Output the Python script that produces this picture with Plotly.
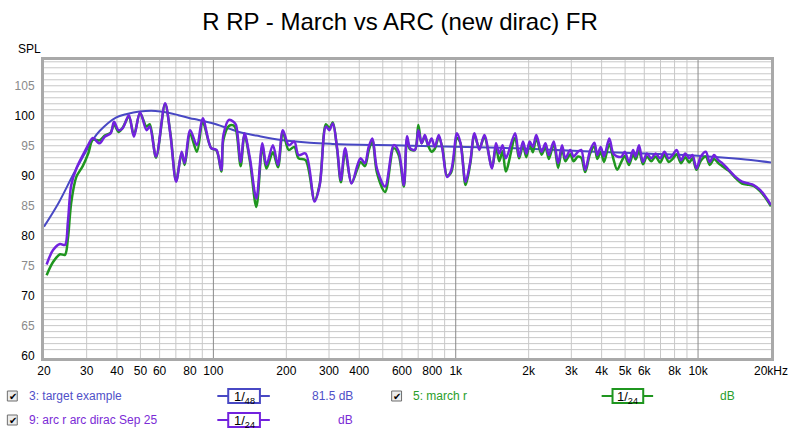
import math
import plotly.graph_objects as go

# ---------------- data ----------------
title_text = "R RP - March vs ARC (new dirac) FR"

freq = [20.5, 21.8, 23.3, 24.4, 25.1, 25.9, 27.2, 28.9, 30.5, 31.8, 33.9, 35.6, 37.7, 38.9, 40.6, 42.2,
        44.8, 47.0, 49.8, 53.0, 54.6, 58.0, 63.2, 66.5, 70.2, 74.0, 76.1, 80.2, 85.5, 90.4, 97.9, 103,
        107.8, 110, 115.9, 121, 124, 129.6, 134.4, 141.5, 150.4, 159.3, 165.5, 176, 184.7, 193.5, 204.6,
        215.8, 224.6, 240.1, 261.6, 274.7, 291.3, 301, 311, 324, 335.7, 349.7, 371.5, 393.4, 405, 422,
        437.4, 453, 473, 511, 555, 582, 611, 630, 648, 679, 701, 723, 746, 770, 795, 820, 851, 882, 921,
        959, 1012, 1047, 1098, 1148, 1195, 1252, 1313, 1412, 1466, 1512, 1561, 1610, 1758, 1825, 1895,
        1957, 2019, 2082, 2150, 2261, 2346, 2422, 2538, 2646, 2747, 2834, 2970, 3064, 3194, 3296, 3422,
        3586, 3735, 3840, 3966, 4092, 4302, 4467, 4638, 4834, 4986, 5192, 5392, 5530, 5706, 5924, 6152,
        6412, 6678, 6978, 7268, 7568, 7858, 8158, 8504, 8856, 9196, 9486, 9850, 10268, 10764, 11176,
        11638, 12120, 12586, 13404, 14280, 15196, 16182, 16962, 18064, 19216, 20000]

arc_r = [75.2, 77.6, 78.6, 78.45, 82.3, 88.4, 91.2, 93.4, 95.2, 96.3, 95.4, 96.5, 97.1, 99.0, 97.6, 97.9,
         100.1, 96.5, 100.6, 97.6, 98.2, 93.2, 102.1, 96.8, 89.0, 94.0, 92.1, 97.6, 95.1, 99.6, 94.6, 94.3,
         90.95, 96.8, 99.3, 99.0, 98.45, 92.3, 97.1, 92.9, 86.2, 95.4, 91.8, 95.1, 91.8, 97.6, 95.1,
         95.7, 93.45, 93.7, 85.7, 88.45, 98.2, 97.6, 98.7, 94.6, 89.3, 94.6, 88.7, 91.8, 92.9, 92.1,
         94.8, 96.2, 91.2, 88.2, 95.1, 94.0, 88.45, 96.6, 94.6, 94.3, 97.6, 95.4, 96.8, 95.1, 96.2, 94.8, 96.8, 94.3, 89.8,
         90.95, 97.1, 95.4, 89.0, 92.3, 97.1, 94.3, 96.8, 91.2, 95.4, 93.7, 95.1, 92.9, 97.1, 93.2, 95.7,
         93.7, 95.7, 94.8, 96.8, 94.0, 95.4, 93.45, 95.7, 92.1, 95.1, 92.9, 94.3, 93.2, 94.0, 94.3, 90.95,
         94.2, 95.5, 93.45, 94.8, 93.2, 96.2, 93.7, 93.2, 93.2, 94.0, 92.3, 94.3, 93.2, 95.1, 92.3, 93.7,
         92.9, 93.7, 92.9, 94.0, 92.9, 93.45, 94.3, 92.6, 93.7, 92.9, 93.45, 91.2, 93.2, 94.0, 92.3,
         93.45, 92.6, 92.1, 90.95, 89.8, 89.0, 88.7, 88.45, 87.6, 86.2, 85.1]

march_r = [73.4, 75.6, 76.9, 76.8, 79.5, 85.5, 89.8, 91.6, 93.8, 96.0, 95.9, 96.7, 97.2, 98.6, 97.3, 98.0,
           99.8, 96.8, 100.4, 98.2, 98.6, 93.0, 101.9, 97.0, 89.2, 93.8, 91.8, 97.0, 94.0, 98.9, 94.6, 94.2,
           90.7, 96.0, 98.3, 98.4, 97.7, 91.6, 96.8, 92.4, 84.8, 94.9, 91.2, 93.9, 91.4, 97.3, 94.3,
           94.8, 92.9, 92.6, 85.9, 88.6, 98.6, 97.9, 98.9, 94.4, 88.9, 93.9, 88.8, 91.2, 92.3, 91.6,
           94.2, 95.9, 90.5, 87.3, 94.6, 93.4, 88.2, 96.1, 94.4, 94.3, 98.45, 95.4, 96.5, 95.0, 94.0, 94.5, 96.4, 94.6, 90.0,
           90.6, 96.3, 95.4, 88.45, 92.0, 96.7, 94.6, 96.4, 91.4, 94.8, 92.4, 94.1, 90.7, 96.3, 92.9, 95.0,
           93.1, 95.4, 93.9, 96.3, 93.5, 94.8, 92.8, 95.3, 91.3, 94.5, 92.4, 93.6, 92.4, 93.2, 93.0, 90.6,
           93.7, 94.9, 92.8, 94.0, 92.3, 95.3, 92.9, 91.0, 92.4, 93.3, 91.8, 93.6, 92.7, 94.2, 91.9, 93.2,
           92.4, 93.2, 92.2, 93.5, 92.3, 92.8, 93.6, 92.1, 93.1, 92.2, 92.9, 91.0, 92.5, 93.2, 91.8,
           92.8, 92.1, 91.6, 90.8, 89.6, 88.7, 88.5, 88.3, 87.4, 86.0, 84.9]

target_freq = [20, 23, 26.4, 29, 31.8, 34, 39.6, 44, 49.5, 57.7, 65, 71.7, 80, 87, 100, 115, 130, 150,
               191, 250, 310, 400, 555, 660, 1000, 2000, 3800, 6000, 10300, 15000, 20000]
target_db = [81.5, 85.5, 90.2, 93.2, 96.0, 97.5, 99.7, 100.3, 100.7, 100.8, 100.5, 100.1, 99.6, 99.3,
             98.7, 97.9, 97.2, 96.7, 95.95, 95.5, 95.3, 95.15, 95.1, 95.0, 94.85, 94.5, 94.0, 93.7,
             93.3, 92.8, 92.2]

x_tickvals = [20, 30, 40, 50, 60, 80, 100, 200, 300, 400, 600, 800, 1000,
              2000, 3000, 4000, 5000, 6000, 8000, 10000, 20000]
x_ticktext = ["20", "30", "40", "50", "60", "80", "100", "200", "300", "400", "600",
              "800", "1k", "2k", "3k", "4k", "5k", "6k", "8k", "10k", "20kHz"]
x_grid = [30, 40, 50, 60, 70, 80, 90, 200, 300, 400, 500, 600, 700, 800, 900,
          2000, 3000, 4000, 5000, 6000, 7000, 8000, 9000]
x_major = [100, 1000, 10000]
y_tickvals = [60, 65, 70, 75, 80, 85, 90, 95, 100, 105]
y_grid = list(range(61, 110))

legend_names = ["3: target example", "9: arc r arc dirac Sep 25", "5: march r"]
legend_smooth = ["48", "24", "24"]
legend_values = ["81.5 dB", "dB", "dB"]

# ---------------- style ----------------
C_TARGET = "#4848C4"
C_ARC = "#7222DE"
C_MARCH = "#1F961F"
C_TARGET_TXT = "#5050C8"
C_ARC_TXT = "#7B2BD6"
C_MARCH_TXT = "#2A9E2A"
C_GRID = "#c8c8c8"

W, H = 800, 434
L, R, T, B = 44, 22, 60, 76
PW, PH = W - L - R, H - T - B


def px(x):
    return (x - L) / PW


def py(y):
    return (H - B - y) / PH


fig = go.Figure()
fig.add_trace(go.Scatter(x=target_freq, y=target_db, mode="lines",
                         line=dict(color=C_TARGET, width=2, shape="spline", smoothing=1.0),
                         showlegend=False, hoverinfo="skip"))
fig.add_trace(go.Scatter(x=freq, y=march_r, mode="lines",
                         line=dict(color=C_MARCH, width=2.5, shape="spline", smoothing=0.9),
                         showlegend=False))
fig.add_trace(go.Scatter(x=freq, y=arc_r, mode="lines",
                         line=dict(color=C_ARC, width=2.5, shape="spline", smoothing=0.9),
                         showlegend=False))

y_ticktext = [f'<span style="color:{"#000000" if v % 10 == 0 else "#8a8a8a"}">{v}</span>' for v in y_tickvals]

xr = [math.log10(20), math.log10(20000)]
fig.update_layout(
    width=W, height=H,
    margin=dict(l=L, r=R, t=T, b=B),
    paper_bgcolor="white", plot_bgcolor="white",
    font=dict(family="Liberation Sans, Arial, sans-serif", size=12, color="#000"),
    title=dict(text=title_text, x=0.5, xanchor="center", y=1 - 22 / H, yanchor="middle",
               font=dict(size=24, color="#000", family="Liberation Sans, Arial, sans-serif")),
    xaxis=dict(type="log", range=xr, tickmode="array", tickvals=x_tickvals, ticktext=x_ticktext,
               showgrid=False, ticks="", zeroline=False,
               showline=True, linecolor="#a9a9a9", linewidth=3, mirror=True,
               tickfont=dict(size=12, color="#000")),
    yaxis=dict(range=[59.6, 109.3], tickmode="array", tickvals=y_tickvals, ticktext=y_ticktext,
               showgrid=False, ticks="", zeroline=False,
               showline=True, linecolor="#a9a9a9", linewidth=3, mirror=True,
               tickfont=dict(size=12), ticklabelstandoff=4),
)

shapes = []
annots = []

# grid lines (below the traces)
for v in y_grid:
    shapes.append(dict(type="line", xref="paper", yref="y", x0=0, x1=1, y0=v, y1=v, layer="below",
                       line=dict(color=C_GRID, width=1)))
for f in x_grid:
    shapes.append(dict(type="line", xref="x", yref="paper", x0=f, x1=f, y0=0, y1=1, layer="below",
                       line=dict(color=C_GRID, width=1)))
for f in x_major:
    shapes.append(dict(type="line", xref="x", yref="paper", x0=f, x1=f, y0=0, y1=1, layer="below",
                       line=dict(color="#8a8a8a", width=1)))

# SPL label
annots.append(dict(text="SPL", xref="paper", yref="paper", x=px(16), y=py(49), xanchor="left", yanchor="middle",
                   showarrow=False, font=dict(size=12, color="#000")))


def legend_item(cx_box, cy, name, col_txt, col_line, smooth, val, val_right, sym_l, sym_r, box_l, box_r):
    shapes.append(dict(type="rect", xref="paper", yref="paper", x0=px(cx_box), x1=px(cx_box + 10),
                       y0=py(cy + 5), y1=py(cy - 5), line=dict(color="#6e6e6e", width=1), fillcolor="#ececec"))
    annots.append(dict(text="✔", xref="paper", yref="paper", x=px(cx_box + 5.5), y=py(cy), xanchor="center",
                       yanchor="middle", showarrow=False, font=dict(size=10, color="#000", family="DejaVu Sans")))
    annots.append(dict(text=name, xref="paper", yref="paper", x=px(cx_box + 20), y=py(cy), xanchor="left",
                       yanchor="middle", showarrow=False, font=dict(size=12, color=col_txt)))
    shapes.append(dict(type="line", xref="paper", yref="paper", x0=px(sym_l), x1=px(box_l), y0=py(cy), y1=py(cy),
                       line=dict(color=col_line, width=2)))
    shapes.append(dict(type="line", xref="paper", yref="paper", x0=px(box_r), x1=px(sym_r), y0=py(cy), y1=py(cy),
                       line=dict(color=col_line, width=2)))
    shapes.append(dict(type="rect", xref="paper", yref="paper", x0=px(box_l), x1=px(box_r), y0=py(cy + 7),
                       y1=py(cy - 7), line=dict(color=col_line, width=2), fillcolor="white"))
    annots.append(dict(text=f"1/<sub>{smooth}</sub>", xref="paper", yref="paper", x=px((box_l + box_r) / 2),
                       y=py(cy + 1), xanchor="center", yanchor="middle", showarrow=False,
                       font=dict(size=13, color="#000")))
    annots.append(dict(text=val, xref="paper", yref="paper", x=px(val_right), y=py(cy), xanchor="right",
                       yanchor="middle", showarrow=False, font=dict(size=12, color=col_txt)))


legend_item(7, 396, legend_names[0], C_TARGET_TXT, C_TARGET, legend_smooth[0], legend_values[0], 358, 219, 272, 230, 262)
legend_item(7, 420, legend_names[1], C_ARC_TXT, C_ARC, legend_smooth[1], legend_values[1], 358, 219, 272, 230, 262)
legend_item(395, 396, legend_names[2], C_MARCH_TXT, C_MARCH, legend_smooth[2], legend_values[2], 744, 607, 659, 618, 649)

fig.update_layout(shapes=shapes, annotations=annots)

fig.write_html("out.html")
